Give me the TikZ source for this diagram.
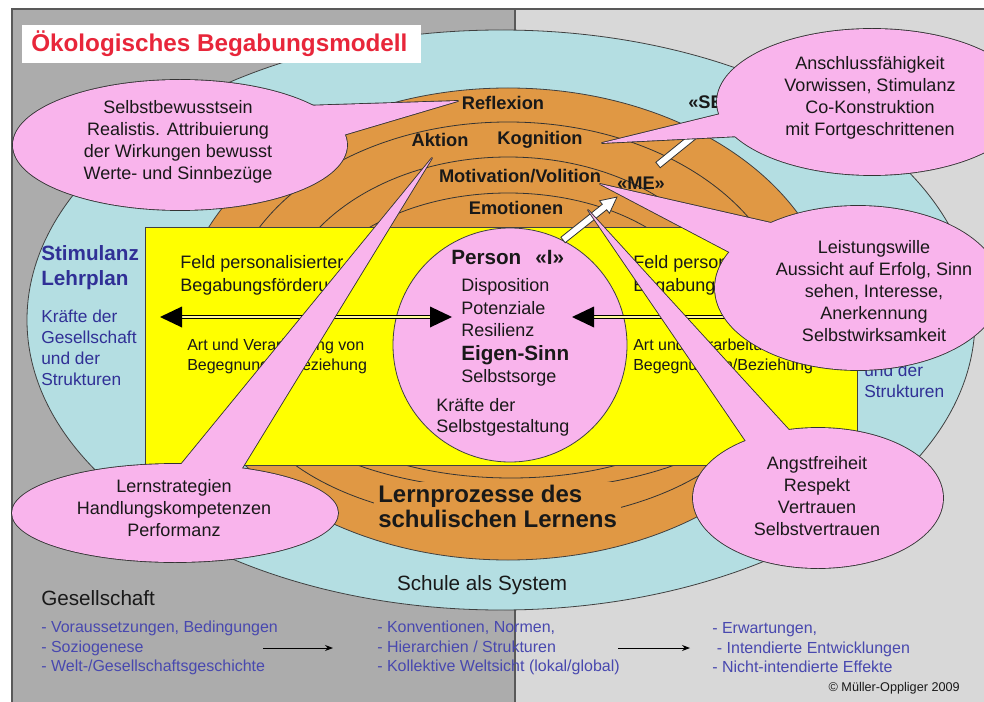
\documentclass[tikz,border=0pt]{standalone}
\usepackage{fontspec}
\setmainfont{Liberation Sans}
\usetikzlibrary{arrows.meta}
\definecolor{bgdark}{RGB}{172,172,172}
\definecolor{bglight}{RGB}{216,216,216}
\definecolor{skyblue}{RGB}{180,222,226}
\definecolor{orng}{RGB}{224,152,68}
\definecolor{yel}{RGB}{255,255,0}
\definecolor{pnk}{RGB}{249,180,236}
\definecolor{navy}{RGB}{48,48,150}
\definecolor{listblue}{RGB}{72,72,175}
\definecolor{titlered}{RGB}{232,38,58}
\newcommand{\myfs}[2]{\fontsize{#1}{#2}\selectfont}
\begin{document}
\begin{tikzpicture}[x=0.75pt,y=-0.75pt,
  outline/.style={draw=black!75, line width=0.6pt},
  framel/.style={draw=black!65, line width=0.8pt},
  arcline/.style={draw=black!80, line width=0.6pt},
  bubbleedge/.style={draw=black!80, line width=1.3pt, line join=round, fill=pnk},
  bubblefill/.style={fill=pnk},
  bubtext/.style={align=center, text=black!90, font=\myfs{13.5}{16.5}, inner sep=0pt},
  olabel/.style={font=\bfseries\myfs{13.7}{16}, text=black!90, inner sep=0pt},
  ptext/.style={anchor=west, font=\myfs{13.5}{15}, text=black!90, inner sep=0pt},
  ytext/.style={anchor=west, align=left, font=\myfs{13.5}{17.25}, text=black!90, inner sep=0pt},
  ysmall/.style={anchor=west, align=left, font=\myfs{12}{15}, text=black!90, inner sep=0pt},
  bluebold/.style={anchor=west, align=left, font=\bfseries\myfs{15.5}{18.75}, text=navy, inner sep=0pt},
  bluetext/.style={anchor=west, align=left, font=\myfs{13}{15.75}, text=navy, inner sep=0pt},
  listtext/.style={anchor=west, align=left, font=\myfs{12}{14.6}, text=listblue, inner sep=0pt},
  dbl/.style={draw=black, line width=0.9pt, double=yellow!40!white, double distance=1.4pt},
  whitearrow/.style={fill=white, draw=black!80, line width=0.6pt, line join=miter}
]
\useasboundingbox (0,0) rectangle (984,702);
\clip (0,0) rectangle (984,702);
% background
\fill[white] (0,0) rectangle (984,702);
\fill[bgdark] (12,9) rectangle (515,702);
\fill[bglight] (515,9) rectangle (984,702);
\draw[framel] (12,702) -- (12,9) -- (984,9);
\draw[framel] (515,9) -- (515,702);

% school ellipse
\filldraw[fill=skyblue, outline] (501,320) ellipse [x radius=355.5pt, y radius=217.5pt];

% title
\fill[white] (22,25) rectangle (421,63);
\node (title) [anchor=west, inner sep=0pt, text=titlered, font=\bfseries\myfs{18.2}{20}] at (31,44) {Ökologisches Begabungsmodell};

% orange learning process ellipse with inner arcs
\begin{scope}
  \clip (508,324) ellipse [x radius=246pt, y radius=177pt];
  \fill[orng] (0,0) rectangle (984,702);
  \begin{scope}
    \clip (0,0) rectangle (984,228);
    \draw[arcline] (508,324) ellipse [x radius=212.25pt, y radius=151.5pt];
    \draw[arcline] (508,324) ellipse [x radius=173.25pt, y radius=125.25pt];
    \draw[arcline] (508,324) ellipse [x radius=153.75pt, y radius=98.25pt];
  \end{scope}
  \begin{scope}
    \clip (0,464) rectangle (984,702);
    \draw[arcline] (505,380) ellipse [x radius=196.5pt, y radius=106.5pt];
    \draw[arcline] (516,380) ellipse [x radius=187.5pt, y radius=82.5pt];
    \draw[arcline] (511,380) ellipse [x radius=159.75pt, y radius=73.5pt];
  \end{scope}
\end{scope}
\draw[outline] (508,324) ellipse [x radius=246pt, y radius=177pt];

% yellow field
\filldraw[fill=yel, outline] (145,227) rectangle (857,465);

% person circle
\filldraw[fill=pnk, outline] (510,345) circle [radius=87.75pt];

% orange labels
\node (refl) [olabel] at (503,103) {Reflexion};
\node (akt) [olabel] at (440,140) {Aktion};
\node (kog) [olabel] at (540,140) {Kognition};
\node (mot) [olabel] at (520,176) {Motivation/Volition};
\node (emo) [olabel] at (516,208) {Emotionen};
\node (me) [olabel] at (641,183) {«ME»};
\node (self) [olabel, anchor=west] at (688,102) {«SELF»};
\node (lern) [anchor=west, align=left, fill=orng, inner xsep=3pt, inner ysep=2pt, font=\bfseries\myfs{18}{18.75}, text=black!90] at (374,506) {Lernprozesse des\\schulischen Lernens};
\node (schule) [inner sep=0pt, font=\myfs{15.5}{18}, text=black!90] at (482,585) {Schule als System};

% side texts
\node (stimL) [bluebold] at (41,267.5) {Stimulanz\\Lehrplan};
\node (kraefteL) [bluetext] at (41,347.5) {Kräfte der\\Gesellschaft\\und der\\Strukturen};
\node (kraefteR) [bluetext] at (864,381) {und der\\Strukturen};

% yellow field texts
\node (feldL) [ytext] at (180,275.5) {Feld personalisierter\\Begabungsförderung};
\node (feldR) [ytext] at (633,275.5) {Feld personalisierter\\Begabungsförderung};
\node (artL) [ysmall] at (187,356) {Art und Verarbeitung von\\Begegnungen/Beziehung};
\node (artR) [ysmall] at (633,356) {Art und Verarbeitung von\\Begegnungen/Beziehung};

% person texts
\node (pers) [ptext, font=\bfseries\myfs{15.5}{17}] at (451,257) {Person};
\node (ich) [ptext, font=\bfseries\myfs{15.5}{17}] at (535,257) {«I»};
\node (disp) [ptext] at (461,287) {Disposition};
\node (pot) [ptext] at (461,308) {Potenziale};
\node (res) [ptext] at (461,330) {Resilienz};
\node (eigen) [ptext, font=\bfseries\myfs{15.5}{17}] at (461,355) {Eigen-Sinn};
\node (sorge) [ptext] at (461,378) {Selbstsorge};
\node (kr1) [ptext] at (436,405) {Kräfte der};
\node (kr2) [ptext] at (436,428) {Selbstgestaltung};

% double arrows
\coordinate (la1) at (160,317);
\coordinate (la2) at (452,317);
\draw[dbl] (181,317) -- (431,317);
\fill[black] (la1) -- (182,306.5) -- (182,327.5) -- cycle;
\fill[black] (la2) -- (430,306.5) -- (430,327.5) -- cycle;
\coordinate (ra1) at (572,317);
\coordinate (ra2) at (845,317);
\draw[dbl] (592,317) -- (824,317);
\fill[black] (ra1) -- (594,306.5) -- (594,327.5) -- cycle;
\fill[black] (ra2) -- (823,306.5) -- (823,327.5) -- cycle;

% white arrows I -> ME -> SELF
\begin{scope}[shift={(563,240)}, rotate=38.5]
  \filldraw[whitearrow] (0,-3.5) -- (53,-3.5) -- (53,-8) -- (69,0) -- (53,8) -- (53,3.5) -- (0,3.5) -- cycle;
\end{scope}
\begin{scope}[shift={(658,165)}, rotate=39]
  \filldraw[whitearrow] (0,-3.5) -- (54,-3.5) -- (54,-8) -- (70,0) -- (54,8) -- (54,3.5) -- (0,3.5) -- cycle;
\end{scope}

% bubble 1 (Reflexion)
\path[bubbleedge] (180,145) ellipse [x radius=125.25pt, y radius=48.75pt];
\path[bubbleedge] (300,106) -- (458,101) -- (340,136) -- cycle;
\path[bubblefill] (180,145) ellipse [x radius=125.25pt, y radius=48.75pt];
\path[bubblefill] (300,106) -- (458,101) -- (340,136) -- cycle;
\node (b1) [bubtext] at (178,142) {Selbstbewusstsein\\Realistis. Attribuierung\\der Wirkungen bewusst\\Werte- und Sinnbezüge};

% bubble 2 (Kognition)
\path[bubbleedge] (872,102) ellipse [x radius=116.25pt, y radius=54.75pt];
\path[bubbleedge] (602,143) -- (745,108) -- (742,136) -- cycle;
\path[bubblefill] (872,102) ellipse [x radius=116.25pt, y radius=54.75pt];
\path[bubblefill] (602,143) -- (745,108) -- (742,136) -- cycle;
\node (b2) [bubtext] at (870,98) {Anschlussfähigkeit\\Vorwissen, Stimulanz\\Co-Konstruktion\\mit Fortgeschrittenen};

% bubble 3 (Motivation)
\path[bubbleedge] (858,288) ellipse [x radius=107.25pt, y radius=61.5pt];
\path[bubbleedge] (600,184) -- (780,225) -- (735,255) -- cycle;
\path[bubblefill] (858,288) ellipse [x radius=107.25pt, y radius=61.5pt];
\path[bubblefill] (600,184) -- (780,225) -- (735,255) -- cycle;
\node (b3) [bubtext] at (874,291) {Leistungswille\\Aussicht auf Erfolg, Sinn\\sehen, Interesse,\\Anerkennung\\Selbstwirksamkeit};

% bubble 4 (Aktion)
\path[bubbleedge] (175,513) ellipse [x radius=122.25pt, y radius=36.75pt];
\path[bubbleedge] (432,158) -- (170,478) -- (236,478) -- cycle;
\path[bubblefill] (175,513) ellipse [x radius=122.25pt, y radius=36.75pt];
\path[bubblefill] (432,158) -- (170,478) -- (236,478) -- cycle;
\node (b4) [bubtext] at (174,508) {Lernstrategien\\Handlungskompetenzen\\Performanz};

% bubble 5 (Emotionen)
\path[bubbleedge] (818,498) ellipse [x radius=93.75pt, y radius=52.5pt];
\path[bubbleedge] (588,210) -- (752,450) -- (798,440) -- cycle;
\path[bubblefill] (818,498) ellipse [x radius=93.75pt, y radius=52.5pt];
\path[bubblefill] (588,210) -- (752,450) -- (798,440) -- cycle;
\node (b5) [bubtext] at (817,496) {Angstfreiheit\\Respekt\\Vertrauen\\Selbstvertrauen};

% bottom texts
\node (ges) [anchor=west, inner sep=0pt, font=\myfs{15.5}{18}, text=black!90] at (41,598) {Gesellschaft};
\node (list1) [listtext] at (41,648) {- Voraussetzungen, Bedingungen\\- Soziogenese\\- Welt-/Gesellschaftsgeschichte};
\node (list2) [listtext] at (377,648) {- Konventionen, Normen,\\- Hierarchien / Strukturen\\- Kollektive Weltsicht (lokal/global)};
\node (list3) [listtext] at (712,648) {- Erwartungen,\\\hspace*{3.5pt}- Intendierte Entwicklungen\\- Nicht-intendierte Effekte};
\coordinate (a1s) at (263,648);
\coordinate (a1e) at (333,648);
\coordinate (a2s) at (618,648);
\coordinate (a2e) at (690,648);
\draw[black, line width=0.7pt, -{Stealth[length=6pt,width=4.5pt]}] (a1s) -- (a1e);
\draw[black, line width=0.7pt, -{Stealth[length=6pt,width=4.5pt]}] (a2s) -- (a2e);
\node (copy) [anchor=east, inner sep=0pt, font=\myfs{9.5}{11}, text=black!90] at (960,688) {© Müller-Oppliger 2009};
\end{tikzpicture}
\end{document}
